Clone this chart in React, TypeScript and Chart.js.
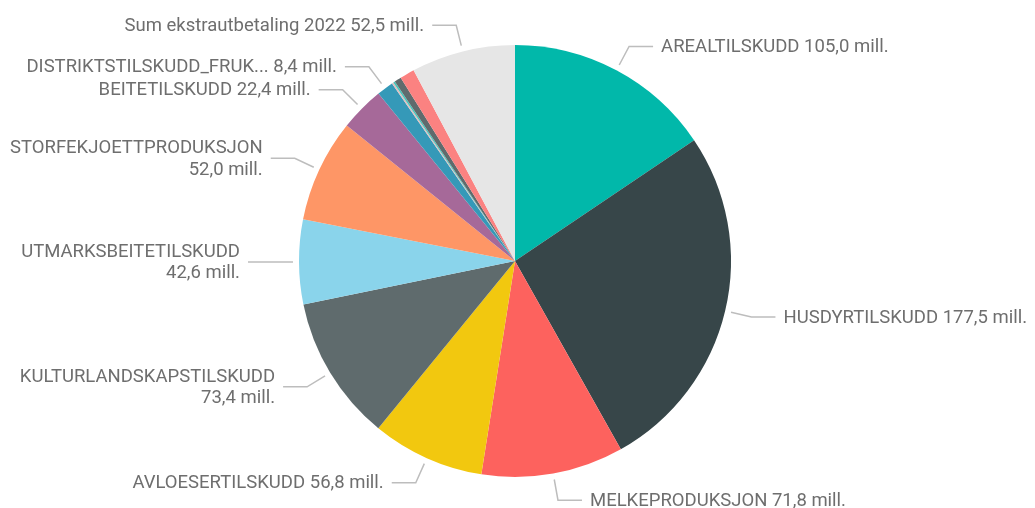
import React, { useEffect, useRef } from "react";
import { Chart, registerables } from "chart.js";

Chart.register(...registerables);

const categories = [
  "AREALTILSKUDD",
  "HUSDYRTILSKUDD",
  "MELKEPRODUKSJON",
  "AVLOESERTILSKUDD",
  "KULTURLANDSKAPSTILSKUDD",
  "UTMARKSBEITETILSKUDD",
  "STORFEKJOETTPRODUKSJON",
  "BEITETILSKUDD",
  "DISTRIKTSTILSKUDD_FRUK...",
  "",
  "",
  "",
  "",
  "Sum ekstrautbetaling 2022",
];
const values = [105.0, 177.5, 71.8, 56.8, 73.4, 42.6, 52.0, 22.4, 8.4, 0.8, 0.9, 3.5, 7.4, 52.5];
const colors = [
  "#01B8AA",
  "#374649",
  "#FD625E",
  "#F2C80F",
  "#5F6B6D",
  "#8AD4EB",
  "#FE9666",
  "#A66999",
  "#3599B8",
  "#DFBFBF",
  "#4AC5BB",
  "#5F6B6D",
  "#FB8281",
  "#E6E6E6",
];
const unitSuffix = "mill.";

const FONT_SIZE = 18.5;
const FONT = `${FONT_SIZE}px Roboto`;
const TEXT_COLOR = "#6E6E6E";
const LINE_COLOR = "#BDBDBD";

const fmt = (v: number) => `${v.toFixed(1).replace(".", ",")} ${unitSuffix}`;

function wrap(ctx: CanvasRenderingContext2D, text: string, avail: number): string[] {
  if (ctx.measureText(text).width <= avail) return [text];
  const words = text.split(" ");
  const lines: string[] = [];
  let cur = "";
  for (const w of words) {
    const t = cur ? cur + " " + w : w;
    if (cur && ctx.measureText(t).width > avail) {
      lines.push(cur);
      cur = w;
    } else {
      cur = t;
    }
  }
  if (cur) lines.push(cur);
  return lines;
}

const labelPlugin = {
  id: "pbiLabels",
  afterDatasetsDraw(chart: any) {
    const ctx: CanvasRenderingContext2D = chart.ctx;
    const meta = chart.getDatasetMeta(0);
    ctx.save();
    ctx.font = FONT;
    meta.data.forEach((arc: any, i: number) => {
      const name = categories[i];
      if (!name) return;
      const { x, y, startAngle, endAngle, outerRadius } = arc.getProps(
        ["x", "y", "startAngle", "endAngle", "outerRadius"],
        true
      );
      const mid = (startAngle + endAngle) / 2;
      const c = Math.cos(mid);
      const s = Math.sin(mid);
      const r0 = outerRadius + 6;
      const r1 = outerRadius + 27;
      const x0 = x + c * r0, y0 = y + s * r0;
      const x1 = x + c * r1, y1 = y + s * r1;
      const right = c >= 0;
      const x2 = x1 + (right ? 24 : -24);
      ctx.strokeStyle = LINE_COLOR;
      ctx.lineWidth = 1.5;
      ctx.beginPath();
      ctx.moveTo(x0, y0);
      ctx.lineTo(x1, y1);
      ctx.lineTo(x2, y1);
      ctx.stroke();
      const tx = x2 + (right ? 8 : -8);
      const text = `${name} ${fmt(values[i])}`;
      const avail = right ? chart.width - tx : tx;
      const lines = wrap(ctx, text, avail);
      ctx.fillStyle = TEXT_COLOR;
      ctx.textAlign = right ? "left" : "right";
      ctx.textBaseline = "middle";
      const lh = 21.5;
      lines.forEach((ln, k) => {
        ctx.fillText(ln, tx, y1 + 1 + (k - (lines.length - 1) / 2) * lh);
      });
    });
    ctx.restore();
  },
};

export default function App() {
  const ref = useRef<HTMLCanvasElement | null>(null);
  useEffect(() => {
    document.body.style.margin = "0";
    const canvas = ref.current;
    if (!canvas) return;
    const chart = new Chart(canvas, {
      type: "pie",
      data: {
        labels: categories,
        datasets: [
          {
            data: values,
            backgroundColor: colors,
            borderWidth: 0,
          },
        ],
      },
      options: {
        animation: false,
        responsive: true,
        maintainAspectRatio: false,
        layout: { padding: { top: 45, bottom: 31, left: 0, right: 5 } },
        plugins: {
          legend: { display: false },
          tooltip: { enabled: false },
        },
      },
      plugins: [labelPlugin],
    });
    return () => chart.destroy();
  }, []);
  return (
    <div style={{ width: 1035, height: 508, position: "relative", background: "#fff" }}>
      <canvas ref={ref} />
    </div>
  );
}
